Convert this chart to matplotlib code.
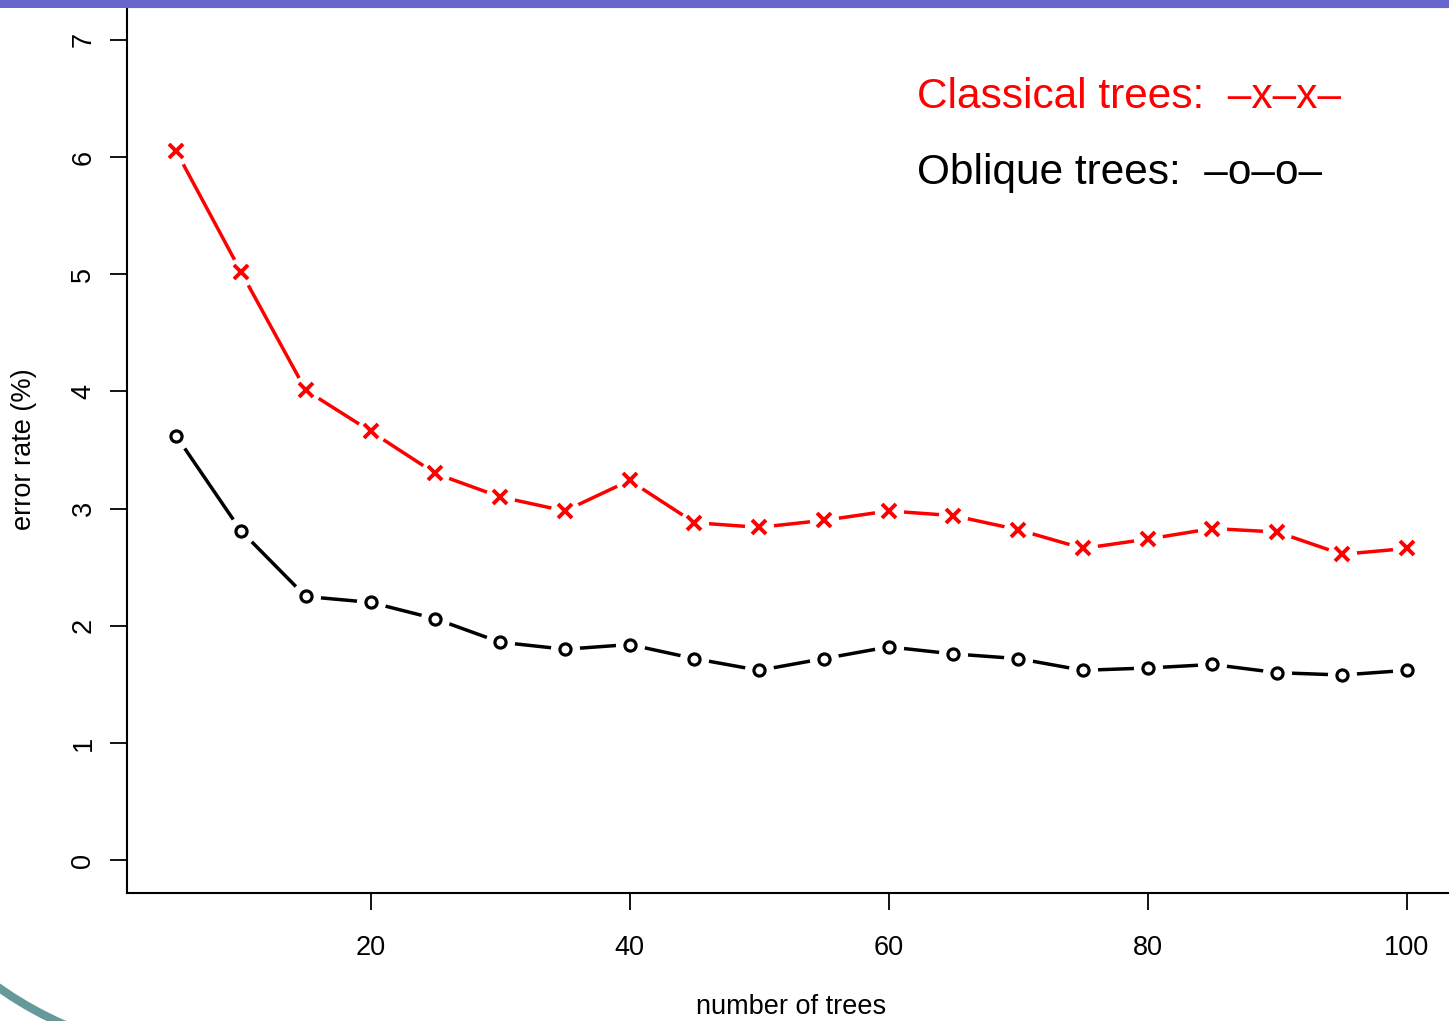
import matplotlib
matplotlib.use('Agg')
from matplotlib import pyplot as plt
from matplotlib.patches import Rectangle, Arc
import numpy as np

plt.rcParams['font.family'] = ['Liberation Sans', 'DejaVu Sans']

# data
trees = [5, 10, 15, 20, 25, 30, 35, 40, 45, 50, 55, 60, 65, 70, 75, 80, 85, 90, 95, 100]
classical = [6.05, 5.02, 4.01, 3.66, 3.30, 3.10, 2.98, 3.24, 2.88, 2.84,
             2.90, 2.98, 2.94, 2.82, 2.66, 2.74, 2.83, 2.80, 2.61, 2.66]
oblique = [3.62, 2.81, 2.25, 2.20, 2.06, 1.86, 1.80, 1.84, 1.72, 1.62,
           1.72, 1.82, 1.76, 1.72, 1.62, 1.64, 1.67, 1.60, 1.58, 1.62]
xticks = [20, 40, 60, 80, 100]
yticks = [0, 1, 2, 3, 4, 5, 6, 7]

W, H = 1449, 1021
fig = plt.figure(figsize=(W / 100, H / 100), dpi=100)

# slide decorations
fig.patches.append(Rectangle((0, 1 - 8 / H), 1, 8 / H, transform=fig.transFigure,
                             facecolor='#6666cc', edgecolor='none', zorder=0))
fig.patches.append(Arc((210 / W, 1 - 690 / H), 2 * 365 / W, 2 * 365 / H,
                       theta1=215, theta2=255, transform=fig.transFigure,
                       color='#669999', linewidth=6, zorder=0))

ax = fig.add_axes([127 / W, 1 - 893 / H, (1456 - 127) / W, 886 / H])

# R type="b": lines broken around the points
for vals, col, mk, ms, mew in [(classical, 'red', 'x', 10, 2.8),
                               (oblique, 'black', 'o', 8, 2.3)]:
    ax.plot(trees, vals, color=col, lw=2.5, zorder=2)
    ax.plot(trees, vals, ls='none', marker='o', ms=21, mfc='white', mec='none', zorder=3)
    ax.plot(trees, vals, ls='none', marker=mk, ms=ms, mfc='none', mec=col, mew=mew, zorder=4)

ax.set_xlim(1.2, 103.8)
ax.set_ylim(-0.28, 7.28)
ax.set_xticks(xticks)
ax.set_yticks(yticks)
ax.tick_params(axis='both', direction='out', length=12, width=1.3, labelsize=19.5)
ax.tick_params(axis='x', pad=18)
ax.tick_params(axis='y', pad=10)
for lab in ax.get_yticklabels():
    lab.set_rotation(90)
    lab.set_va('center')
for s in ax.spines.values():
    s.set_linewidth(1.5)

fig.text(791 / W, 1 - 1007 / H, 'number of trees', fontsize=19.5, ha='center', va='center')
fig.text(24 / W, 1 - 449 / H, 'error rate (%)', fontsize=19.5, ha='center', va='center',
         rotation=90)

fig.text(917 / W, 1 - 108 / H, 'Classical trees:  \u2013x\u2013x\u2013', fontsize=30.5,
         color='red', ha='left', va='baseline')
fig.text(917 / W, 1 - 184 / H, 'Oblique trees:  \u2013o\u2013o\u2013', fontsize=30.5,
         color='black', ha='left', va='baseline')

plt.savefig('out.png', dpi=100)
